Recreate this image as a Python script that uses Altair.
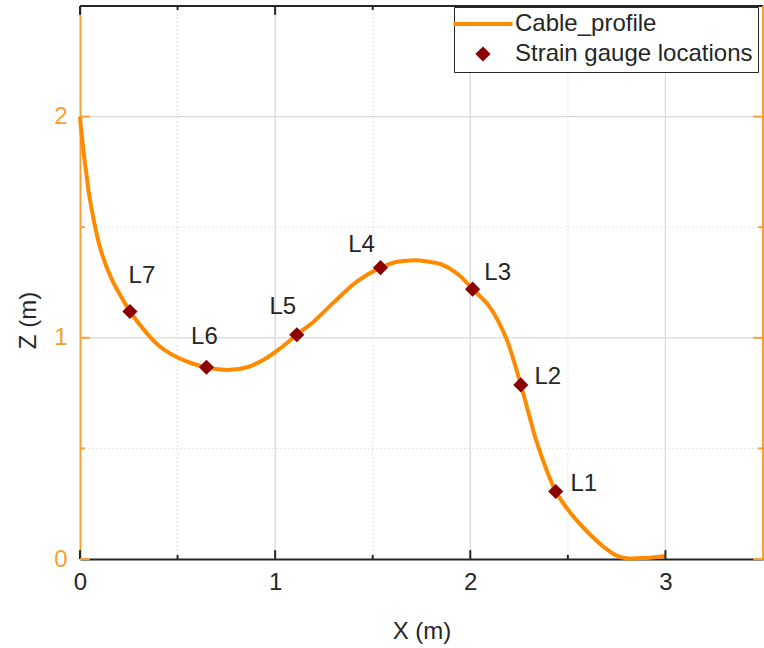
import math
import altair as alt
import pandas as pd

FONT = "Liberation Sans"
INK = "#262626"
CABLE_ORANGE = "#FF8A00"
AXIS_ORANGE = "#F5A033"
MAROON = "#8B0000"
GRID_MAJOR = "#D9D9D9"
GRID_MINOR = "#DCDCDC"

# cable centreline, X (m) along the span and Z (m) height
cable_x = [0.0, 0.006, 0.017, 0.033, 0.051, 0.106, 0.16, 0.22, 0.256, 0.409, 0.546,
           0.648, 0.767, 0.86, 0.95, 1.03, 1.111, 1.2, 1.3, 1.42, 1.54, 1.62,
           1.7, 1.78, 1.858, 1.94, 2.012, 2.097, 2.183, 2.259, 2.30, 2.34, 2.39,
           2.438, 2.49, 2.55, 2.62, 2.69, 2.75, 2.8, 2.9, 3.0]
cable_z = [2.0, 1.94, 1.851, 1.74, 1.624, 1.398, 1.27, 1.172, 1.119, 0.961, 0.893,
           0.867, 0.855, 0.868, 0.905, 0.955, 1.014, 1.075, 1.16, 1.255, 1.317, 1.343,
           1.35, 1.345, 1.33, 1.285, 1.22, 1.142, 1.0, 0.787, 0.655, 0.53, 0.405,
           0.305, 0.235, 0.17, 0.105, 0.05, 0.015, 0.003, 0.005, 0.014]

# strain gauges mounted on the cable
gauge_names = ["L1", "L2", "L3", "L4", "L5", "L6", "L7"]
gauge_x = [2.438, 2.259, 2.012, 1.54, 1.111, 0.648, 0.256]
gauge_z = [0.305, 0.787, 1.22, 1.317, 1.014, 0.867, 1.119]

series_names = ["Cable_profile", "Strain gauge locations"]

x_major = [0, 1, 2, 3]
x_minor = [0.5, 1.5, 2.5]
z_major = [0, 1, 2]
z_minor = [0.5, 1.5]
X_MAX = 3.5
Z_MAX = 2.5

# pixel nudges for the gauge labels
label_offsets = {"L1": (28, -8), "L2": (27, -8), "L3": (25, -16), "L4": (-19, -23),
                 "L5": (-14, -28), "L6": (-2, -30), "L7": (12, -35)}

cable = pd.DataFrame({"x": cable_x, "z": cable_z})
gauges = pd.DataFrame({"name": gauge_names, "x": gauge_x, "z": gauge_z,
                       "series": series_names[1]})

xs = alt.Scale(domain=[0, X_MAX], nice=False, zero=False)
ys = alt.Scale(domain=[0, Z_MAX], nice=False, zero=False)


def vgrid(vals):
    return pd.DataFrame({"x": vals, "x2": vals, "y": 0.0, "y2": Z_MAX})


def hgrid(vals):
    return pd.DataFrame({"x": 0.0, "x2": X_MAX, "y": vals, "y2": vals})


def seg_layer(df, **mark):
    return alt.Chart(df).mark_rule(**mark).encode(
        x=alt.X("x:Q", scale=xs),
        x2="x2:Q",
        y=alt.Y("y:Q", scale=ys),
        y2="y2:Q",
    )


grid_major = seg_layer(pd.concat([vgrid(x_major[1:]), hgrid(z_major[1:])]),
                       color=GRID_MAJOR, strokeWidth=1.3)
grid_minor = seg_layer(pd.concat([vgrid(x_minor), hgrid(z_minor)]),
                       color=GRID_MINOR, strokeWidth=1, strokeDash=[1.5, 2.5])

# inward tick marks on all four sides (major longer than minor)
MAJ_V, MIN_V = 0.04, 0.018    # vertical tick length, Z units
MAJ_H, MIN_H = 0.05, 0.025    # horizontal tick length, X units
rows = []
for vals, lv in ((x_major, MAJ_V), (x_minor, MIN_V)):
    for v in vals:
        rows.append((v, v, 0.0, lv, INK))
        rows.append((v, v, Z_MAX, Z_MAX - lv, INK))
for vals, lh in ((z_major, MAJ_H), (z_minor, MIN_H)):
    for v in vals:
        rows.append((0.0, lh, v, v, AXIS_ORANGE))
        rows.append((X_MAX, X_MAX - lh, v, v, AXIS_ORANGE))
ticks = pd.DataFrame(rows, columns=["x", "x2", "y", "y2", "c"])
tick_layer = alt.Chart(ticks).mark_rule(strokeWidth=2).encode(
    x=alt.X("x:Q", scale=xs),
    x2="x2:Q",
    y=alt.Y("y:Q", scale=ys),
    y2="y2:Q",
    color=alt.Color("c:N", scale=None),
)

# box: top edge black, right edge orange
top_edge = seg_layer(hgrid([Z_MAX]), color=INK, strokeWidth=2)
right_edge = seg_layer(vgrid([X_MAX]), color=AXIS_ORANGE, strokeWidth=2)

cable_line = alt.Chart(cable).mark_line(
    color=CABLE_ORANGE, strokeWidth=4, interpolate="catmull-rom"
).encode(
    x=alt.X("x:Q", scale=xs, axis=alt.Axis(
        values=x_major, format="d", grid=False, ticks=False, labelFlush=False,
        domainColor=INK, domainWidth=2, labelColor=INK, labelFontSize=24,
        labelPadding=11, title="X (m)", titleFontSize=24, titleColor=INK,
        titleFontWeight="normal", titleX=341.5, titleY=72, titleBaseline="middle",
    )),
    y=alt.Y("z:Q", scale=ys, axis=alt.Axis(
        values=z_major, format="d", grid=False, ticks=False, labelFlush=False,
        domainColor=AXIS_ORANGE, domainWidth=2, labelColor=AXIS_ORANGE,
        labelFontSize=24, labelPadding=13, title="Z (m)", titleFontSize=24,
        titleColor=INK, titleFontWeight="normal", titleX=-52, titleY=314,
        titleAlign="center", titleBaseline="middle", titleAngle=270,
    )),
)

# legend glyphs: a short horizontal stroke for the cable, a diamond for gauges
SYM_SIZE = 90
half = 29.5 / (math.sqrt(SYM_SIZE) / 2)
line_glyph = f"M-{half:.3f},0L{half:.3f},0"

legend = alt.Legend(
    orient="none", legendX=374, legendY=1, title=None,
    labelFont=FONT, labelFontSize=24, labelColor=INK, labelLimit=0,
    labelOffset=20, symbolOffset=12, padding=5, rowPadding=5,
    symbolSize=SYM_SIZE, symbolStrokeWidth=4,
    strokeColor=INK, fillColor="white",
)
pal = alt.Scale(domain=series_names, range=[CABLE_ORANGE, MAROON])
gauge_points = alt.Chart(gauges).mark_point(
    filled=True, size=SYM_SIZE, strokeWidth=4, opacity=1
).encode(
    x=alt.X("x:Q", scale=xs),
    y=alt.Y("z:Q", scale=ys),
    fill=alt.Fill("series:N", scale=pal, legend=legend),
    stroke=alt.Stroke("series:N", scale=pal, legend=legend),
    shape=alt.Shape("series:N", scale=alt.Scale(domain=series_names,
                                                range=[line_glyph, "diamond"]),
                    legend=legend),
)

label_layers = []
for name in gauge_names:
    dx, dy = label_offsets[name]
    label_layers.append(
        alt.Chart(gauges).transform_filter(alt.datum.name == name).mark_text(
            font=FONT, fontSize=24, color=INK, dx=dx, dy=dy,
            align="center", baseline="middle",
        ).encode(
            x=alt.X("x:Q", scale=xs),
            y=alt.Y("z:Q", scale=ys),
            text="name:N",
        )
    )

chart = alt.layer(
    grid_minor, grid_major, cable_line, top_edge, right_edge, tick_layer,
    gauge_points, *label_layers,
).properties(
    width=683, height=553, autosize="none",
    padding={"left": 80, "top": 6, "right": 1, "bottom": 89},
).configure(
    font=FONT,
).configure_axis(
    labelFontSize=24, titleFontSize=24, labelFont=FONT, titleFont=FONT,
    labelFlush=False,
).configure_view(
    stroke=None,
)

chart.save("out.html", embed_options={"renderer": "svg", "actions": False})
